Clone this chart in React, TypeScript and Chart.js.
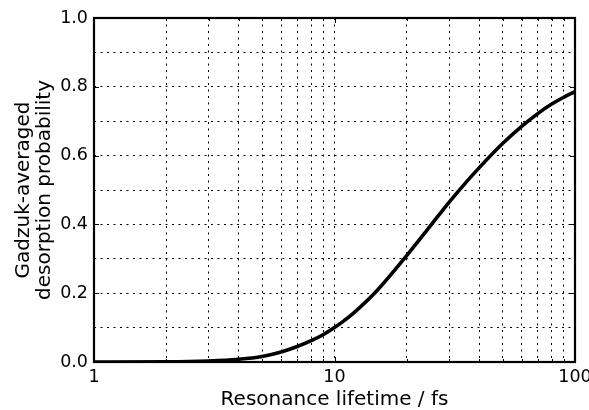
import React, { useEffect, useRef } from "react";
import { Chart, registerables } from "chart.js";

Chart.register(...registerables);

const lifetimes = [1, 2, 3, 4, 5, 6, 7, 8, 9, 10, 11, 12, 15, 20, 25, 30, 35, 40, 50, 60, 70, 80, 90, 100];
const probabilities = [0, 0.0005, 0.003, 0.008, 0.016, 0.029, 0.045, 0.062, 0.08, 0.1, 0.121, 0.142, 0.207, 0.31, 0.395, 0.465, 0.52, 0.565, 0.635, 0.685, 0.722, 0.75, 0.77, 0.786];

const xTickValues = [1, 2, 3, 4, 5, 6, 7, 8, 9, 10, 20, 30, 40, 50, 60, 70, 80, 90, 100];
const xTickLabels = [1, 10, 100];
const xTitle = "Resonance lifetime / fs";
const yTitle = ["Gadzuk-averaged", "desorption probability"];

const FONT = "'DejaVu Sans', sans-serif";

const boxPlugin = {
  id: "boxPlugin",
  afterDatasetsDraw(chart: any) {
    const { ctx, chartArea } = chart;
    const { left, right, top, bottom } = chartArea;
    const xs = chart.scales.x;
    const ys = chart.scales.y;
    ctx.save();
    ctx.strokeStyle = "#000";
    ctx.setLineDash([]);
    ctx.lineWidth = 1;
    ctx.beginPath();
    for (const v of xTickValues) {
      const px = Math.round(xs.getPixelForValue(v)) + 0.5;
      const len = xTickLabels.includes(v) ? 5 : 3;
      ctx.moveTo(px, bottom);
      ctx.lineTo(px, bottom - len);
      ctx.moveTo(px, top);
      ctx.lineTo(px, top + len);
    }
    for (let i = 0; i <= 5; i++) {
      const py = Math.round(ys.getPixelForValue(i * 0.2)) + 0.5;
      ctx.moveTo(left, py);
      ctx.lineTo(left + 5, py);
      ctx.moveTo(right, py);
      ctx.lineTo(right - 5, py);
    }
    ctx.stroke();
    ctx.lineWidth = 2.2;
    ctx.strokeRect(left, top, right - left, bottom - top);
    ctx.restore();
  },
};

export default function App() {
  const ref = useRef<HTMLCanvasElement | null>(null);
  useEffect(() => {
    if (!ref.current) return;
    const data = lifetimes.map((x, i) => ({ x, y: probabilities[i] }));
    const chart = new Chart(ref.current, {
      type: "line",
      data: {
        datasets: [
          {
            data,
            borderColor: "#000",
            borderWidth: 3.6,
            pointRadius: 0,
            cubicInterpolationMode: "monotone",
            fill: false,
          },
        ],
      },
      options: {
        animation: false,
        responsive: false,
        devicePixelRatio: 1,
        layout: { padding: { top: 18, right: 14, left: 0, bottom: 0 } },
        plugins: { legend: { display: false }, tooltip: { enabled: false } },
        scales: {
          x: {
            type: "logarithmic",
            min: 1,
            max: 100,
            afterBuildTicks: (scale: any) => {
              scale.ticks = xTickValues.map((v) => ({ value: v }));
            },
            afterFit: (scale: any) => {
              scale.height = 48;
              scale.paddingLeft = 0;
              scale.paddingRight = 0;
            },
            ticks: {
              autoSkip: false,
              maxRotation: 0,
              padding: 5,
              color: "#000",
              font: { family: FONT, size: 17.5 },
              callback: (v: any) => (xTickLabels.includes(Number(v)) ? String(v) : ""),
            },
            grid: { color: "#000", lineWidth: 1, drawTicks: false },
            border: { display: false, dash: [2, 4.5] },
            title: {
              display: true,
              text: xTitle,
              color: "#000",
              font: { family: FONT, size: 20, lineHeight: 1.0 },
              padding: { top: 0, bottom: 0 },
            },
          },
          y: {
            type: "linear",
            min: 0,
            max: 1,
            afterFit: (scale: any) => {
              scale.width = 94;
              scale.paddingTop = 0;
              scale.paddingBottom = 0;
            },
            ticks: {
              stepSize: 0.1,
              autoSkip: false,
              padding: 6,
              color: "#000",
              font: { family: FONT, size: 17.5 },
              callback: (v: any) => (Math.round(Number(v) * 10) % 2 === 0 ? Number(v).toFixed(1) : ""),
            },
            grid: { color: "#000", lineWidth: 1, drawTicks: false },
            border: { display: false, dash: [2, 4.5] },
            title: {
              display: true,
              text: yTitle,
              color: "#000",
              font: { family: FONT, size: 20, lineHeight: "21px" },
              padding: { top: 13, bottom: 0 },
            },
          },
        },
      },
      plugins: [boxPlugin],
    } as any);
    return () => chart.destroy();
  }, []);
  return (
    <div style={{ position: "absolute", left: 0, top: 0, width: 589, height: 410, background: "#fff" }}>
      <canvas ref={ref} width={589} height={410} style={{ width: 589, height: 410 }} />
    </div>
  );
}
